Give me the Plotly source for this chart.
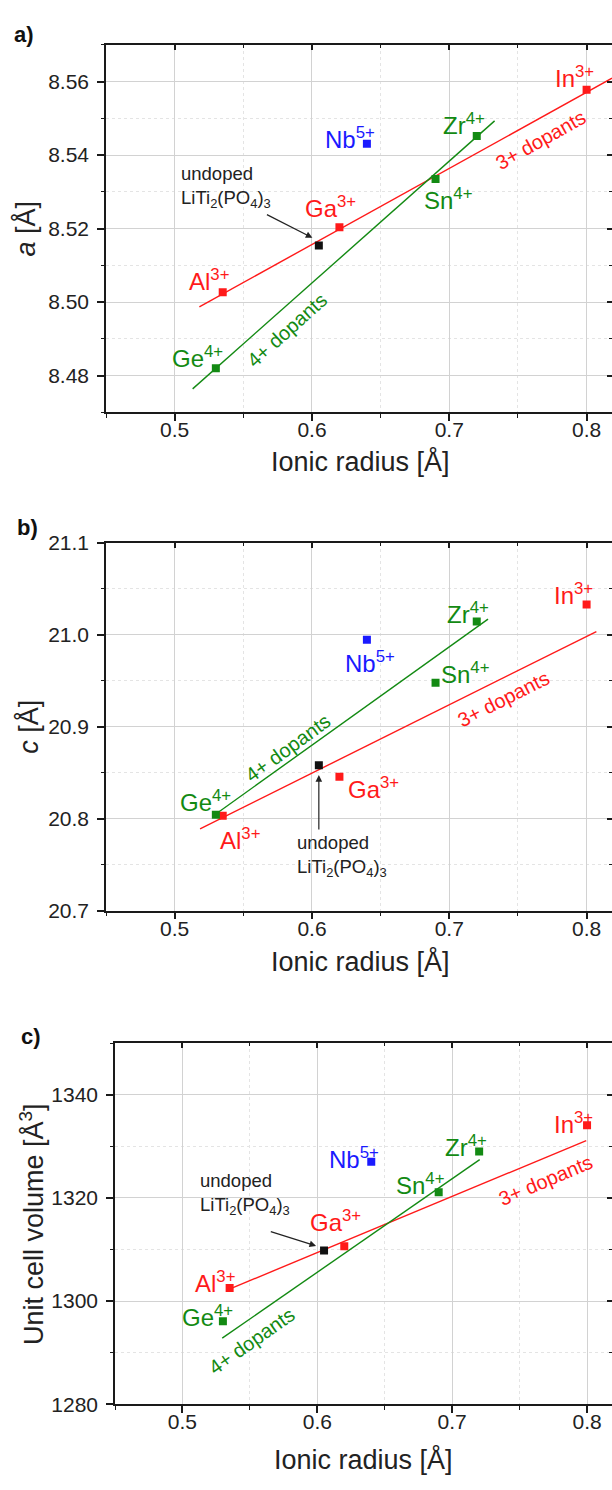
import plotly.graph_objects as go

# Shannon ionic radii [Å] of the dopant cations (Ti4+ for the undoped host)
ions_3 = ["Al", "Ga", "In"]
r_3 = [0.535, 0.62, 0.80]
ions_4 = ["Ge", "Sn", "Zr"]
r_4 = [0.53, 0.69, 0.72]
ions_5 = ["Nb"]
r_5 = [0.64]
r_undoped = [0.605]

# lattice parameter a [Å]
a_3 = [8.5027, 8.5204, 8.5578]
a_4 = [8.4820, 8.5335, 8.5452]
a_5 = [8.5431]
a_undoped = [8.5154]

# lattice parameter c [Å]
c_3 = [20.8032, 20.8457, 21.0332]
c_4 = [20.8043, 20.9479, 21.0146]
c_5 = [20.9946]
c_undoped = [20.8582]

# unit cell volume [Å^3]
v_3 = [1302.5, 1310.6, 1334.1]
v_4 = [1296.1, 1321.1, 1329.0]
v_5 = [1327.0]
v_undoped = [1309.8]

# linear trend lines for the 3+ and 4+ dopant series (end points)
a_fit3_x, a_fit3_y = [0.518, 0.8185], [8.4987, 8.5609]
a_fit4_x, a_fit4_y = [0.5131, 0.733], [8.4764, 8.5493]
c_fit3_x, c_fit3_y = [0.5185, 0.8071], [20.789, 21.0036]
c_fit4_x, c_fit4_y = [0.528, 0.7282], [20.803, 21.0171]
v_fit3_x, v_fit3_y = [0.5353, 0.7994], [1302.35, 1331.1]
v_fit4_x, v_fit4_y = [0.5295, 0.7204], [1292.8, 1327.4]

charges = {"Al": "3+", "Ga": "3+", "In": "3+", "Ge": "4+", "Sn": "4+", "Zr": "4+", "Nb": "5+"}

RED = "#ff1a1a"
GREEN = "#138a13"
BLUE = "#1a1aff"
BLACK = "#111111"
AXIS = "#1a1a1a"
FONT = "Liberation Sans, Arial, sans-serif"

W, H = 612, 1490
X_MAX = 0.8185

panels = [
    dict(tag="a)", ytitle="<i>a</i> [Å]", left=106, top=33.3, bottom=406.7,
         yrange=[8.47, 8.57], dtick=0.02, minor=0.01, fmt=".2f",
         y3=a_3, y4=a_4, y5=a_5, y0=a_undoped,
         f3=(a_fit3_x, a_fit3_y), f4=(a_fit4_x, a_fit4_y),
         labels={"In": (0.7909, 8.5612), "Zr": (0.7105, 8.5484), "Nb": (0.6277, 8.5446),
                 "Sn": (0.6997, 8.5280), "Ga": (0.6137, 8.5259), "Al": (0.5249, 8.5059),
                 "Ge": (0.5163, 8.4852)},
         undoped=(0.5035, 8.5312), arrow=((0.5661, 8.5240), (0.6003, 8.5175)),
         d3=(0.7665, 8.5441, -29.4), d4=(0.5818, 8.4925, -42),
         tagpos=(24, 23), ytpos=(26, 220), xtpos=(360.6, 457)),
    dict(tag="b)", ytitle="<i>c</i> [Å]", left=106, top=539.3, bottom=912.7,
         yrange=[20.7, 21.1], dtick=0.1, minor=0.05, fmt=".1f",
         y3=c_3, y4=c_4, y5=c_5, y0=c_undoped,
         f3=(c_fit3_x, c_fit3_y), f4=(c_fit4_x, c_fit4_y),
         labels={"In": (0.7905, 21.0448), "Zr": (0.7133, 21.0243), "Nb": (0.6421, 20.9707),
                 "Sn": (0.7118, 20.9589), "Ga": (0.6450, 20.8336), "Al": (0.5476, 20.7779),
                 "Ge": (0.5221, 20.8189)},
         undoped=(0.5877, 20.7591), arrow=((0.605, 20.7865), (0.605, 20.8475)),
         d3=(0.7395, 20.9297, -26.9), d4=(0.5823, 20.8772, -36.2),
         tagpos=(27, 524), ytpos=(29, 726), xtpos=(360.6, 964)),
    dict(tag="c)", ytitle="Unit cell volume [Å<sup>3</sup>]", left=115, top=1047.3, bottom=1414,
         yrange=[1280, 1350], dtick=20, minor=10, fmt="d",
         y3=v_3, y4=v_4, y5=v_5, y0=v_undoped,
         f3=(v_fit3_x, v_fit3_y), f4=(v_fit4_x, v_fit4_y),
         labels={"In": (0.7897, 1334.54), "Zr": (0.7102, 1330.0), "Nb": (0.6273, 1327.72),
                 "Sn": (0.6765, 1322.76), "Ga": (0.6135, 1315.6), "Al": (0.5245, 1303.67),
                 "Ge": (0.5187, 1297.18)},
         undoped=(0.5118, 1320.7), arrow=((0.5644, 1313.54), (0.5991, 1310.68)),
         d3=(0.7698, 1323.39, -23), d4=(0.5514, 1292.22, -35.2),
         tagpos=(31, 1041), ytpos=(32, 1231), xtpos=(363.8, 1470)),
]

fig = go.Figure()
annotations = []
layout = {}

for i, p in enumerate(panels, start=1):
    sx = "" if i == 1 else str(i)
    xr, yr = "x" + sx, "y" + sx
    ox, oy = "x" + str(i + 3), "y" + str(i + 3)
    xdom = [p["left"] / W, 1]
    ydom = [1 - p["bottom"] / H, 1 - p["top"] / H]

    layout["xaxis" + sx] = dict(
        domain=xdom, anchor=yr, range=[0.45, X_MAX], dtick=0.1, tick0=0,
        showline=True, linecolor=AXIS, linewidth=1.6,
        ticks="outside", ticklen=7, tickwidth=1.5, tickcolor=AXIS,
        ticklabelstandoff=-9,
        showgrid=True, gridcolor="#d2d2d2", gridwidth=1, zeroline=False,
        minor=dict(dtick=0.05, tick0=0, ticks="outside", ticklen=4, tickwidth=1.3,
                   tickcolor=AXIS, showgrid=True, gridcolor="#e4e4e4", griddash="dot"),
        tickfont=dict(family=FONT, size=21, color="#222"),
    )
    layout["yaxis" + sx] = dict(
        domain=ydom, anchor=xr, range=p["yrange"], dtick=p["dtick"], tick0=0,
        tickformat=p["fmt"],
        showline=True, linecolor=AXIS, linewidth=1.6,
        ticks="outside", ticklen=7, tickwidth=1.5, tickcolor=AXIS,
        ticklabelstandoff=4,
        showgrid=True, gridcolor="#d2d2d2", gridwidth=1, zeroline=False,
        minor=dict(dtick=p["minor"], tick0=0, ticks="outside", ticklen=3, tickwidth=1.3,
                   tickcolor=AXIS, showgrid=True, gridcolor="#e4e4e4", griddash="dot"),
        tickfont=dict(family=FONT, size=21, color="#222"),
    )
    # top and right frame with inward ticks
    layout["xaxis" + str(i + 3)] = dict(
        overlaying=xr, side="top", anchor=yr, range=[0.45, X_MAX], dtick=0.1, tick0=0,
        showline=True, linecolor=AXIS, linewidth=1.6,
        ticks="inside", ticklen=5, tickwidth=1.5, tickcolor=AXIS,
        showticklabels=False, showgrid=False, zeroline=False,
        minor=dict(dtick=0.05, tick0=0, ticks="inside", ticklen=3, tickwidth=1.3,
                   tickcolor=AXIS, showgrid=False),
    )
    layout["yaxis" + str(i + 3)] = dict(
        overlaying=yr, side="right", anchor=xr, range=p["yrange"], dtick=p["dtick"], tick0=0,
        showline=True, linecolor=AXIS, linewidth=1.6,
        ticks="inside", ticklen=5, tickwidth=1.5, tickcolor=AXIS,
        showticklabels=False, showgrid=False, zeroline=False,
        minor=dict(dtick=p["minor"], tick0=0, ticks="inside", ticklen=3, tickwidth=1.3,
                   tickcolor=AXIS, showgrid=False),
    )
    fig.add_trace(go.Scatter(x=[None], y=[None], xaxis=ox, yaxis=oy,
                             showlegend=False, hoverinfo="skip"))

    # trend lines
    for (fx, fy), col in ((p["f3"], RED), (p["f4"], GREEN)):
        fig.add_trace(go.Scatter(x=fx, y=fy, mode="lines", xaxis=xr, yaxis=yr,
                                 line=dict(color=col, width=1.4), showlegend=False))
    # data points
    for rx, ry, col in ((r_3, p["y3"], RED), (r_4, p["y4"], GREEN),
                        (r_5, p["y5"], BLUE), (r_undoped, p["y0"], BLACK)):
        fig.add_trace(go.Scatter(x=rx, y=ry, mode="markers", xaxis=xr, yaxis=yr,
                                 marker=dict(symbol="square", size=8, color=col,
                                             line=dict(width=0)),
                                 showlegend=False))

    # ion labels
    for ion, (lx, ly) in p["labels"].items():
        col = RED if ion in ions_3 else GREEN if ion in ions_4 else BLUE
        annotations.append(dict(
            x=lx, y=ly, xref=xr, yref=yr, showarrow=False,
            text=f"{ion}<sup>{charges[ion]}</sup>", xanchor="center", yanchor="middle",
            font=dict(family=FONT, size=24, color=col)))

    # undoped host label with arrow
    ux, uy = p["undoped"]
    annotations.append(dict(
        x=ux, y=uy, xref=xr, yref=yr, showarrow=False, align="left",
        text="undoped<br>LiTi<sub>2</sub>(PO<sub>4</sub>)<sub>3</sub>",
        xanchor="left", yanchor="middle",
        font=dict(family=FONT, size=18.5, color="#222")))
    (tx, ty), (hx, hy) = p["arrow"]
    annotations.append(dict(
        x=hx, y=hy, ax=tx, ay=ty, xref=xr, yref=yr, axref=xr, ayref=yr,
        text="", showarrow=True, arrowhead=2, arrowsize=1.1, arrowwidth=1.2,
        arrowcolor="#222", standoff=0, startstandoff=0))

    # trend line captions
    for (dx, dy, ang), txt, col in ((p["d3"], "3+ dopants", RED), (p["d4"], "4+ dopants", GREEN)):
        annotations.append(dict(
            x=dx, y=dy, xref=xr, yref=yr, showarrow=False, text=txt, textangle=ang,
            xanchor="center", yanchor="middle",
            font=dict(family=FONT, size=20, color=col)))

    # panel tag and axis titles
    annotations.append(dict(
        x=p["tagpos"][0] / W, y=1 - p["tagpos"][1] / H, xref="paper", yref="paper",
        showarrow=False, text=f"<b>{p['tag']}</b>", xanchor="center", yanchor="middle",
        font=dict(family=FONT, size=22, color="#111")))
    annotations.append(dict(
        x=p["ytpos"][0] / W, y=1 - p["ytpos"][1] / H, xref="paper", yref="paper",
        showarrow=False, text=p["ytitle"], textangle=-90, xanchor="center", yanchor="middle",
        font=dict(family=FONT, size=27, color="#222")))
    annotations.append(dict(
        x=p["xtpos"][0] / W, y=1 - p["xtpos"][1] / H, xref="paper", yref="paper",
        showarrow=False, text="Ionic radius [Å]", xanchor="center", yanchor="middle",
        font=dict(family=FONT, size=27, color="#222")))

fig.update_layout(
    width=W, height=H,
    margin=dict(l=0, r=0, t=0, b=0),
    paper_bgcolor="white", plot_bgcolor="white",
    showlegend=False,
    annotations=annotations,
    **layout,
)

fig.write_html("out.html")
